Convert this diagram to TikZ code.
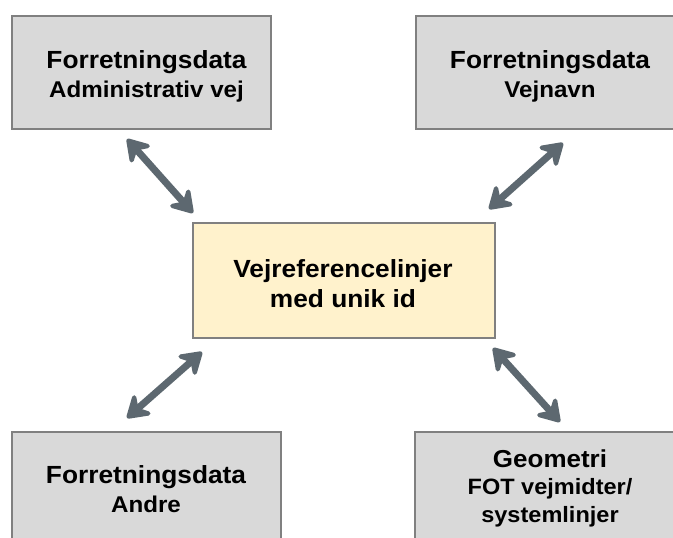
\documentclass[tikz,border=0pt]{standalone}
\usepackage{fontspec}
\setmainfont{Liberation Sans}[FakeStretch=1.06]
\usetikzlibrary{arrows.meta}
\definecolor{boxgray}{HTML}{D9D9D9}
\definecolor{boxedge}{HTML}{808080}
\definecolor{corefill}{HTML}{FFF2CC}
\definecolor{linkcol}{HTML}{5D6870}
\begin{document}
\begin{tikzpicture}[x=1pt,y=-1pt,
  databox/.style={draw=boxedge, line width=1.5pt, fill=boxgray, inner sep=0pt,
    minimum height=113pt},
  corebox/.style={draw=boxedge, line width=1.5pt, fill=corefill, inner sep=0pt,
    minimum width=302pt, minimum height=115pt},
  headtxt/.style={anchor=base, inner sep=0pt, font=\bfseries\fontsize{24.8}{30}\selectfont},
  subtxt/.style={anchor=base, inner sep=0pt, font=\bfseries\fontsize{22.8}{28}\selectfont},
  link/.style={draw=linkcol, line width=7pt, {Stealth[length=27pt,width=34pt,inset=10pt,round,line width=5.5pt]}-{Stealth[length=27pt,width=34pt,inset=10pt,round,line width=5.5pt]}}
]
\clip (0,0) rectangle (673,538);
\fill[white] (0,0) rectangle (673,538);

% boxes
\node[corebox] (core) at (344,280.5) {};
\node[databox, minimum width=259pt] (admin) at (141.5,72.5) {};
\node[databox, minimum width=268pt] (navn) at (550,72.5) {};
\node[databox, minimum width=269pt] (andre) at (146.5,488.5) {};
\node[databox, minimum width=266pt] (geom) at (548,488.5) {};

% texts
\node[headtxt] (coreA) at (343,277) {Vejreferencelinjer};
\node[headtxt] (coreB) at (343,307) {med unik id};
\node[headtxt] (adminA) at (146.5,68) {Forretningsdata};
\node[subtxt]  (adminB) at (146.5,97) {Administrativ vej};
\node[headtxt] (navnA) at (550,68) {Forretningsdata};
\node[subtxt]  (navnB) at (550,97) {Vejnavn};
\node[headtxt] (andreA) at (146,483) {Forretningsdata};
\node[subtxt]  (andreB) at (146,512) {Andre};
\node[headtxt, font=\bfseries\fontsize{24.5}{30}\selectfont] (geomA) at (550,467) {Geometri};
\node[subtxt, font=\bfseries\fontsize{22.2}{27}\selectfont]  (geomB) at (550,494) {FOT vejmidter/};
\node[subtxt, font=\bfseries\fontsize{22.2}{27}\selectfont]  (geomC) at (550,522) {systemlinjer};

% end points of the two-way links
\coordinate (a1) at (127,139);
\coordinate (a2) at (193,213);
\coordinate (b1) at (563,143);
\coordinate (b2) at (489,209);
\coordinate (c1) at (202,352);
\coordinate (c2) at (127,418);
\coordinate (d1) at (493,348);
\coordinate (d2) at (560,422);

\draw[link] (a1) -- (a2);
\draw[link] (b1) -- (b2);
\draw[link] (c1) -- (c2);
\draw[link] (d1) -- (d2);
\end{tikzpicture}
\end{document}
